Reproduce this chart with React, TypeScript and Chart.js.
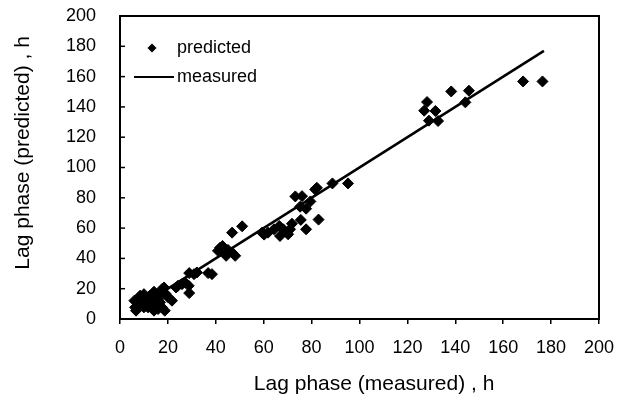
import React, { useEffect, useRef } from "react";
import { Chart, registerables } from "chart.js";

Chart.register(...registerables);

const measuredX: number[] = [
  168.3, 176.4, 138.3, 145.7, 128.2, 127.0, 131.7, 144.2, 129.0, 132.8,
  88.7, 95.2, 81.5, 82.2, 73.2, 76.0, 79.5, 75.2, 77.7, 82.9, 75.5, 77.7, 71.8, 68.2, 70.2, 66.5, 64.3, 61.8, 60.2, 59.3, 66.8, 71.0, 51.0, 46.8,
  41.8, 42.8, 40.9, 43.4, 45.1, 46.8, 48.1, 44.3,
  28.9, 32.1, 36.8, 38.4, 30.9, 27.2, 25.9, 24.2, 28.7, 23.4, 28.9,
  6.0, 6.7, 7.5, 8.4, 9.2, 10.0, 10.9, 12.0, 13.4, 14.2, 15.0, 15.9, 16.4, 17.5, 18.4, 18.7, 19.2, 20.1, 21.7, 16.7, 12.5, 7.5, 10.0, 14.2, 11.7, 17.5, 15.9, 6.3,
];
const predictedY: number[] = [
  156.8, 156.8, 150.2, 150.7, 143.2, 137.5, 137.3, 143.0, 130.9, 130.7,
  89.5, 89.5, 85.5, 86.6, 80.9, 81.1, 77.6, 74.1, 72.8, 65.6, 65.4, 59.2, 62.9, 59.2, 55.9, 61.4, 59.2, 57.0, 55.7, 57.0, 54.8, 59.2, 61.2, 57.0,
  47.1, 48.2, 45.0, 43.9, 45.6, 43.9, 41.7, 41.7,
  30.3, 30.7, 30.3, 29.6, 29.6, 24.1, 23.0, 21.9, 21.9, 20.8, 17.1,
  12.1, 5.5, 8.8, 15.4, 11.0, 7.7, 13.2, 9.9, 12.1, 18.0, 8.8, 6.6, 15.4, 19.7, 20.8, 5.5, 16.4, 14.3, 12.1, 11.0, 15.4, 13.2, 16.4, 5.5, 7.7, 7.7, 13.2, 7.7,
];
const lineX: number[] = [5, 177];
const lineY: number[] = [5, 177];
const tickValues: number[] = [0, 20, 40, 60, 80, 100, 120, 140, 160, 180, 200];
const seriesNames: string[] = ["predicted", "measured"];
const xTitle = "Lag phase (measured) , h";
const yTitle = "Lag phase (predicted) , h";

const FONT = "'Liberation Sans', Arial, sans-serif";

const framePlugin = {
  id: "frameAndLegend",
  afterDatasetsDraw(chart: any) {
    const { ctx, chartArea } = chart;
    const { left, right, top, bottom } = chartArea;
    ctx.save();
    ctx.strokeStyle = "#000";
    ctx.lineWidth = 2;
    ctx.beginPath();
    ctx.rect(left, top, right - left, bottom - top);
    ctx.stroke();
    // inward y ticks
    const ys = chart.scales.y;
    ctx.lineWidth = 1.5;
    ys.ticks.forEach((t: any) => {
      const py = ys.getPixelForValue(t.value);
      ctx.beginPath();
      ctx.moveTo(left, py);
      ctx.lineTo(left + 5, py);
      ctx.stroke();
    });
    // legend
    const lx = 152;
    const ly1 = 48;
    const ly2 = 77;
    ctx.fillStyle = "#000";
    ctx.beginPath();
    const r = 4.5;
    ctx.moveTo(lx, ly1 - r);
    ctx.lineTo(lx + r, ly1);
    ctx.lineTo(lx, ly1 + r);
    ctx.lineTo(lx - r, ly1);
    ctx.closePath();
    ctx.fill();
    ctx.lineWidth = 2;
    ctx.beginPath();
    ctx.moveTo(134, ly2);
    ctx.lineTo(174, ly2);
    ctx.stroke();
    ctx.font = `18px ${FONT}`;
    ctx.textBaseline = "middle";
    ctx.textAlign = "left";
    ctx.fillText(seriesNames[0], 177, ly1);
    ctx.fillText(seriesNames[1], 177, ly2);
    ctx.restore();
  },
};

export default function App() {
  const ref = useRef<HTMLCanvasElement | null>(null);
  useEffect(() => {
    document.body.style.margin = "0";
    const canvas = ref.current;
    if (!canvas) return;
    const chart = new Chart(canvas, {
      type: "scatter",
      data: {
        datasets: [
          {
            label: seriesNames[0],
            data: measuredX.map((x, i) => ({ x, y: predictedY[i] })),
            pointStyle: "rectRot",
            pointRadius: 5.5,
            backgroundColor: "#000",
            borderColor: "#000",
            borderWidth: 1,
            showLine: false,
          },
          {
            label: seriesNames[1],
            type: "line",
            data: lineX.map((x, i) => ({ x, y: lineY[i] })),
            borderColor: "#000",
            borderWidth: 2.5,
            pointRadius: 0,
            showLine: true,
            fill: false,
          } as any,
        ],
      },
      options: {
        animation: false,
        responsive: false,
        maintainAspectRatio: false,
        layout: { padding: { top: 16, right: 29, left: 0, bottom: 0 } },
        plugins: {
          legend: { display: false },
          tooltip: { enabled: false },
        },
        scales: {
          x: {
            type: "linear",
            min: 0,
            max: 200,
            afterBuildTicks: (s: any) => {
              s.ticks = tickValues.map((v) => ({ value: v }));
            },
            afterFit: (s: any) => {
              s.height = 83;
              s.paddingLeft = 0;
              s.paddingRight = 0;
            },
            grid: { drawOnChartArea: false, drawTicks: true, tickLength: 5, color: "#000", lineWidth: 1.5 },
            border: { display: true, color: "#000", width: 2 },
            ticks: { color: "#000", font: { family: FONT, size: 18 }, padding: 13, maxRotation: 0, autoSkip: false },
            title: {
              display: true,
              text: "     " + xTitle,
              color: "#000",
              font: { family: FONT, size: 21 },
              padding: { top: 0, bottom: 5 },
            },
          },
          y: {
            type: "linear",
            min: 0,
            max: 200,
            afterBuildTicks: (s: any) => {
              s.ticks = tickValues.map((v) => ({ value: v }));
            },
            afterFit: (s: any) => {
              s.width = 120;
              s.paddingTop = 0;
              s.paddingBottom = 0;
            },
            grid: { display: false },
            border: { display: true, color: "#000", width: 2 },
            ticks: { color: "#000", font: { family: FONT, size: 18 }, padding: 16, autoSkip: false },
            title: {
              display: true,
              text: "     " + yTitle,
              color: "#000",
              font: { family: FONT, size: 21 },
              padding: { top: 11, bottom: 0 },
            },
          },
        },
      },
      plugins: [framePlugin],
    });
    return () => chart.destroy();
  }, []);
  return <canvas ref={ref} width={628} height={402} style={{ display: "block", width: 628, height: 402 }} />;
}
